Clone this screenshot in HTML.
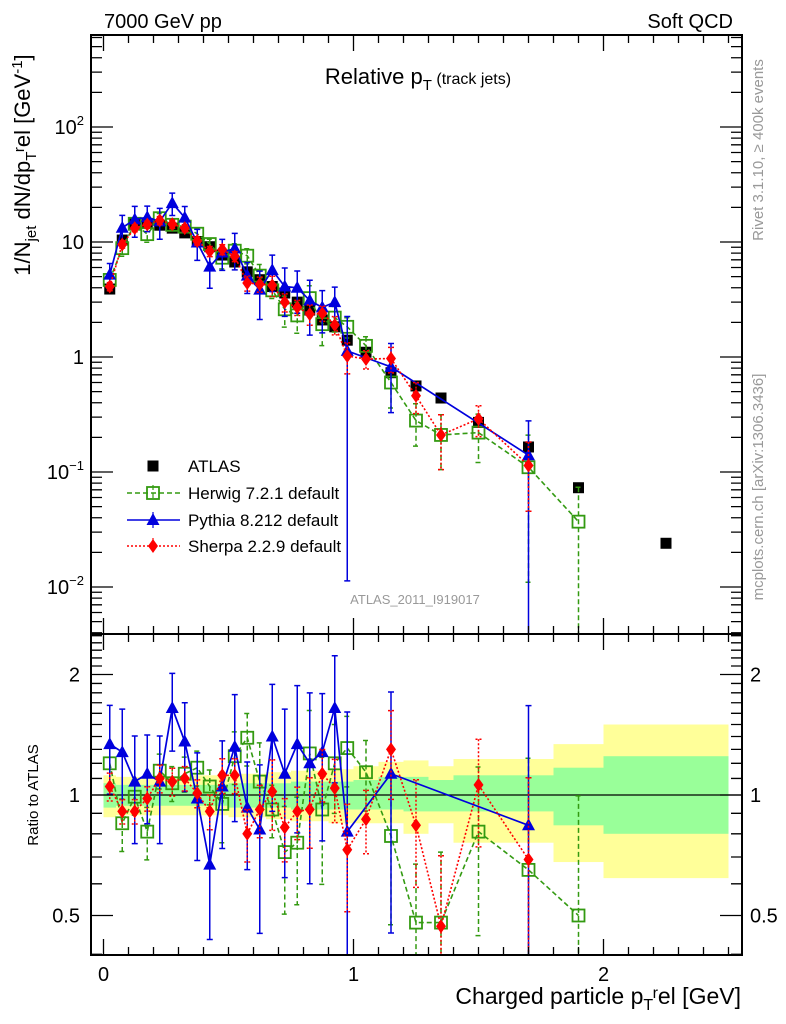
<!DOCTYPE html>
<html><head><meta charset="utf-8"><style>
body{margin:0;background:#fff;}
svg{display:block;font-family:"Liberation Sans",Arial,sans-serif;}
</style></head><body>
<svg id="chart" width="786" height="1024" viewBox="0 0 786 1024" xmlns="http://www.w3.org/2000/svg">
<g id="bands"></g>
<g id="marks"></g>
<g id="axes"></g>
<text x="104" y="28" font-size="20">7000 GeV pp</text>
<text x="733" y="28" font-size="20" text-anchor="end">Soft QCD</text>
<text x="418" y="84" font-size="22" text-anchor="middle">Relative p<tspan font-size="15" dy="6">T</tspan><tspan font-size="16" dy="-6"> (track jets)</tspan></text>
<text transform="translate(763,150) rotate(-90)" font-size="15" fill="#999" text-anchor="middle">Rivet 3.1.10, ≥ 400k events</text>
<text transform="translate(763,487) rotate(-90)" font-size="15" fill="#999" text-anchor="middle">mcplots.cern.ch [arXiv:1306.3436]</text>
<text x="415" y="604" font-size="13" fill="#999" text-anchor="middle">ATLAS_2011_I919017</text>
<text transform="translate(30,165) rotate(-90)" font-size="22" text-anchor="middle">1/N<tspan font-size="15" dy="6">jet</tspan><tspan dy="-6"> dN/dp</tspan><tspan font-size="15" dy="6">T</tspan><tspan font-size="15" dy="-12">r</tspan><tspan dy="6">el [GeV</tspan><tspan font-size="15" dy="-8">-1</tspan><tspan dy="8">]</tspan></text>
<text transform="translate(38,795) rotate(-90)" font-size="15" text-anchor="middle">Ratio to ATLAS</text>
<text x="741" y="1004" font-size="23" text-anchor="end">Charged particle p<tspan font-size="16" dy="6">T</tspan><tspan font-size="16" dy="-12">r</tspan><tspan dy="6">el [GeV]</tspan></text>
<g id="legend"></g>
</svg>
<script>
// ---------- data ----------
const atlasX = [0.025,0.075,0.125,0.175,0.225,0.275,0.325,0.375,0.425,0.475,0.525,0.575,0.625,0.675,0.725,0.775,0.825,0.875,0.925,0.975,1.05,1.15,1.25,1.35,1.5,1.7,1.9,2.25];
const binLo = [0,0.05,0.1,0.15,0.2,0.25,0.3,0.35,0.4,0.45,0.5,0.55,0.6,0.65,0.7,0.75,0.8,0.85,0.9,0.95,1.0,1.1,1.2,1.3,1.4,1.6,1.8,2.0];
const binHi = [0.05,0.1,0.15,0.2,0.25,0.3,0.35,0.4,0.45,0.5,0.55,0.6,0.65,0.7,0.75,0.8,0.85,0.9,0.95,1.0,1.1,1.2,1.3,1.4,1.6,1.8,2.0,2.5];
const atlasY = [3.9,10.4,14.5,14.5,14,13.2,12,10.1,9.1,7.7,6.7,5.5,4.7,4.1,3.6,3.0,2.56,2.1,1.83,1.4,1.1,0.73,0.56,0.44,0.27,0.165,0.073,0.024];
const statUp = [1.07,1.06,1.06,1.06,1.06,1.06,1.06,1.06,1.06,1.06,1.07,1.07,1.07,1.07,1.07,1.08,1.08,1.08,1.08,1.08,1.09,1.11,1.11,1.09,1.12,1.12,1.17,1.25];
const statDn = [0.93,0.94,0.94,0.94,0.94,0.94,0.94,0.94,0.94,0.94,0.93,0.93,0.93,0.93,0.93,0.92,0.92,0.92,0.92,0.92,0.92,0.92,0.91,0.91,0.91,0.91,0.84,0.80];
const totUp = [1.12,1.11,1.11,1.11,1.11,1.11,1.11,1.12,1.12,1.12,1.13,1.13,1.13,1.14,1.14,1.15,1.15,1.15,1.16,1.16,1.18,1.21,1.22,1.18,1.23,1.23,1.34,1.50];
const totDn = [0.88,0.89,0.89,0.89,0.89,0.89,0.89,0.89,0.89,0.89,0.88,0.88,0.88,0.87,0.87,0.86,0.86,0.86,0.85,0.85,0.85,0.85,0.80,0.85,0.76,0.76,0.68,0.62];

const herX = [0.025,0.075,0.125,0.175,0.225,0.275,0.325,0.375,0.425,0.475,0.525,0.575,0.625,0.675,0.725,0.775,0.825,0.875,0.925,0.975,1.05,1.15,1.25,1.35,1.5,1.7,1.9];
const herY = [4.68,8.84,14.4,11.7,16.1,14.1,13.6,11.8,9.6,7.3,8.4,7.6,5.1,3.8,2.6,2.3,3.25,1.93,2.2,1.83,1.25,0.6,0.28,0.21,0.22,0.11,0.037];
const herR = [1.20,0.85,0.99,0.81,1.15,1.07,1.13,1.17,1.05,0.95,1.25,1.39,1.08,0.92,0.72,0.76,1.27,0.92,1.20,1.31,1.14,0.79,0.48,0.48,0.81,0.65,0.50];
const herE = [0.12,0.15,0.10,0.15,0.10,0.10,0.10,0.10,0.10,0.20,0.15,0.15,0.25,0.15,0.30,0.30,0.28,0.35,0.25,0.20,0.20,0.40,0.40,0.50,0.45,0.90,0.99];

const pyX = [0.025,0.075,0.125,0.175,0.225,0.275,0.325,0.375,0.425,0.475,0.525,0.575,0.625,0.675,0.725,0.775,0.825,0.875,0.925,0.975,1.15,1.7];
const pyY = [5.2,13.3,15.7,16.4,15.1,21.8,16.3,9.9,6.1,8.1,8.8,5.1,3.85,5.7,4.1,4.0,3.1,2.7,3.0,1.13,0.82,0.14];
const pyR = [1.34,1.28,1.08,1.13,1.08,1.65,1.36,0.98,0.67,1.05,1.32,0.93,0.82,1.40,1.13,1.34,1.20,1.28,1.65,0.81,1.13,0.84];
const pyE = [0.25,0.28,0.30,0.25,0.30,0.22,0.25,0.30,0.35,0.30,0.35,0.30,0.45,0.35,0.45,0.40,0.50,0.40,0.35,0.99,0.60,0.99];

const shX = [0.025,0.075,0.125,0.175,0.225,0.275,0.325,0.375,0.425,0.475,0.525,0.575,0.625,0.675,0.725,0.775,0.825,0.875,0.925,0.975,1.05,1.15,1.25,1.35,1.5,1.7];
const shY = [4.1,9.5,13.2,14.2,15.4,14.3,13.2,10.2,8.3,8.6,7.5,4.4,4.3,4.2,3.0,2.7,2.36,2.4,1.9,1.02,0.96,0.97,0.46,0.21,0.29,0.114];
const shR = [1.05,0.91,0.91,0.98,1.10,1.08,1.10,1.01,0.91,1.12,1.12,0.80,0.92,1.02,0.83,0.91,0.92,1.13,1.04,0.73,0.87,1.30,0.84,0.47,1.06,0.69];
const shE = [0.08,0.07,0.07,0.07,0.08,0.08,0.07,0.08,0.10,0.10,0.10,0.15,0.15,0.20,0.18,0.15,0.20,0.15,0.18,0.30,0.18,0.25,0.30,0.50,0.30,0.60];

const xTicks = ["0","1","2"];
const ratioTicks = [2,1,0.5];
const ratioTickLabels = ["2","1","0.5"];
const mainDecades = [-2,-1,0,1,2];
const mainTickLabels = ["10<tspan font-size='13' dy='-9'>−2</tspan>","10<tspan font-size='13' dy='-9'>−1</tspan>","1","10","10<tspan font-size='13' dy='-9'>2</tspan>"];

// ---------- geometry ----------
const L=91,R=742,T=35,MB=634,RB=955;
const X = v => 103.5 + (v)*250;
const Ym = v => 357 - 115*Math.log10(v);
const Yr = v => 795 - 120.5*Math.log2(v);
const NS="http://www.w3.org/2000/svg";
function mk(tag, attrs, parent){const e=document.createElementNS(NS,tag);for(const k in attrs)e.setAttribute(k,attrs[k]);parent.appendChild(e);return e;}
const bands=document.getElementById('bands'), marks=document.getElementById('marks'), axes=document.getElementById('axes'), legend=document.getElementById('legend');
const clampM=y=>Math.max(T,Math.min(MB,y)), clampR=y=>Math.max(MB,Math.min(RB,y));

for(let i=0;i<binLo.length;i++){
  const y=mk('rect',{x:X(binLo[i]),y:Yr(totUp[i]),width:X(binHi[i])-X(binLo[i]),height:Yr(totDn[i])-Yr(totUp[i]),fill:'#ffff99'},bands);
  
  
  const g=mk('rect',{x:X(binLo[i]),y:Yr(statUp[i]),width:X(binHi[i])-X(binLo[i]),height:Yr(statDn[i])-Yr(statUp[i]),fill:'#99ff99'},bands);
  
  
}
const one=mk('line',{x1:L,x2:R,y1:Yr(1),y2:Yr(1),stroke:'#000','stroke-width':1.3},bands);



function marker(type,x,y,color,parent){
  let e;
  if(type==='sq') e=mk('rect',{x:x-6,y:y-6,width:12,height:12,fill:'none',stroke:color,'stroke-width':1.8},parent);
  else if(type==='tri') e=mk('polygon',{points:`${x},${y-7} ${x-6.5},${y+5} ${x+6.5},${y+5}`,fill:color},parent);
  else if(type==='dia') e=mk('polygon',{points:`${x},${y-7} ${x-5},${y} ${x},${y+7} ${x+5},${y}`,fill:color},parent);
  else e=mk('rect',{x:x-5.5,y:y-5.5,width:11,height:11,fill:color},parent);
  return e;
}
function series(name,xs,ys,rs,es,color,dash,type,sw){
  const g=mk('g',{},marks);
  
  
  let d='';xs.forEach((x,i)=>{d+=(i?'L':'M')+X(x)+','+Ym(ys[i]);});
  const ln=mk('path',{d,fill:'none',stroke:color,'stroke-width':sw,'stroke-dasharray':dash},g);
  
  
  let d2='';xs.forEach((x,i)=>{d2+=(i?'L':'M')+X(x)+','+Yr(rs[i]);});
  const ln2=mk('path',{d:d2,fill:'none',stroke:color,'stroke-width':sw,'stroke-dasharray':dash},g);
  
  
  xs.forEach((x,i)=>{
    const px=X(x);
    const mt=clampM(Ym(ys[i]*(1+es[i]))), mbm=clampM(Ym(Math.max(ys[i]*(1-es[i]),1e-4)));
    const eb=mk('path',{d:`M${px},${mt}L${px},${mbm}M${px-3},${mt}L${px+3},${mt}M${px-3},${mbm}L${px+3},${mbm}`,stroke:color,'stroke-width':1.5,'stroke-dasharray':dash,fill:'none'},g);
    
    
    const rt=clampR(Yr(rs[i]*(1+es[i]))), rb=clampR(Yr(Math.max(rs[i]*(1-es[i]),0.01)));
    const eb2=mk('path',{d:`M${px},${rt}L${px},${rb}M${px-3},${rt}L${px+3},${rt}M${px-3},${rb}L${px+3},${rb}`,stroke:color,'stroke-width':1.5,'stroke-dasharray':dash,fill:'none'},g);
    
    
    const m=marker(type,px,Ym(ys[i]),color,g);
    
    
    const m2=marker(type,px,Yr(rs[i]),color,g);
    
    
  });
}
atlasX.forEach((x,i)=>{
  const m=marker('fill',X(x),Ym(atlasY[i]),'#000',marks);
  
  
});
series('herwig',herX,herY,herR,herE,'#339a11','5,3','sq',1.6);
series('pythia',pyX,pyY,pyR,pyE,'#0000dd','','tri',1.7);
series('sherpa',shX,shY,shR,shE,'#ff0000','2,2','dia',1.6);

[[T,MB],[MB,RB]].forEach(([a,b],k)=>{
  const f=mk('rect',{x:L,y:a,width:R-L,height:b-a,fill:'none',stroke:'#000','stroke-width':2},axes);
  
  
});
let td='';
for(let v=0;v<=25;v++){
  const px=X(v/10), len=(v%10===0)?16:8;
  td+=`M${px},${T}v${len}M${px},${MB}v${-len}M${px},${MB}v${len}M${px},${RB}v${-len}`;
}
for(let dcd=-3;dcd<=2;dcd++){for(let m=1;m<10;m++){const v=m*Math.pow(10,dcd);const py=Ym(v);if(py<T||py>MB)continue;const len=m===1?22:11;td+=`M${L},${py}h${len}M${R},${py}h${-len}`;}}
for(let v=0.4;v<=2.6;v+=0.1){const py=Yr(v);if(py<MB||py>RB)continue;const major=Math.abs(v-0.5)<1e-6||Math.abs(v-1)<1e-6||Math.abs(v-2)<1e-6;const len=major?22:11;td+=`M${L},${py}h${len}M${R},${py}h${-len}`;}
const tk=mk('path',{d:td,stroke:'#000','stroke-width':1.3,fill:'none'},axes);


xTicks.forEach((t,i)=>{const e=mk('text',{x:X(i),y:981,'font-size':20,'text-anchor':'middle'},axes);e.textContent=t;
  
  });
mainDecades.forEach((d,i)=>{const e=mk('text',{x:84,y:Ym(Math.pow(10,d))+7,'font-size':20,'text-anchor':'end'},axes);e.innerHTML=mainTickLabels[i];
  
  });
ratioTicks.forEach((v,i)=>{
  const e=mk('text',{x:80,y:Yr(v)+7,'font-size':20,'text-anchor':'end'},axes);e.textContent=ratioTickLabels[i];
  
  
  const e2=mk('text',{x:750,y:Yr(v)+7,'font-size':20},axes);e2.textContent=ratioTickLabels[i];
  
  
});
const leg=[['ATLAS','#000','','fill'],['Herwig 7.2.1 default','#339a11','5,3','sq'],['Pythia 8.212 default','#0000dd','','tri'],['Sherpa 2.2.9 default','#ff0000','2,2','dia']];
const legY=[466,493,520,546];
leg.forEach((l,i)=>{
  const g=mk('g',{},legend);
  
  
  if(i>0){mk('line',{x1:127,x2:180,y1:legY[i],y2:legY[i],stroke:l[1],'stroke-width':1.5,'stroke-dasharray':l[2]},g);
    mk('line',{x1:153,x2:153,y1:legY[i]-8,y2:legY[i]+8,stroke:l[1],'stroke-width':1.2,'stroke-dasharray':l[2]},g);}
  marker(l[3],153,legY[i],l[1],g);
  const t=mk('text',{x:188,y:legY[i]+6,'font-size':17},g);t.textContent=l[0];
});
</script>
</body></html>
